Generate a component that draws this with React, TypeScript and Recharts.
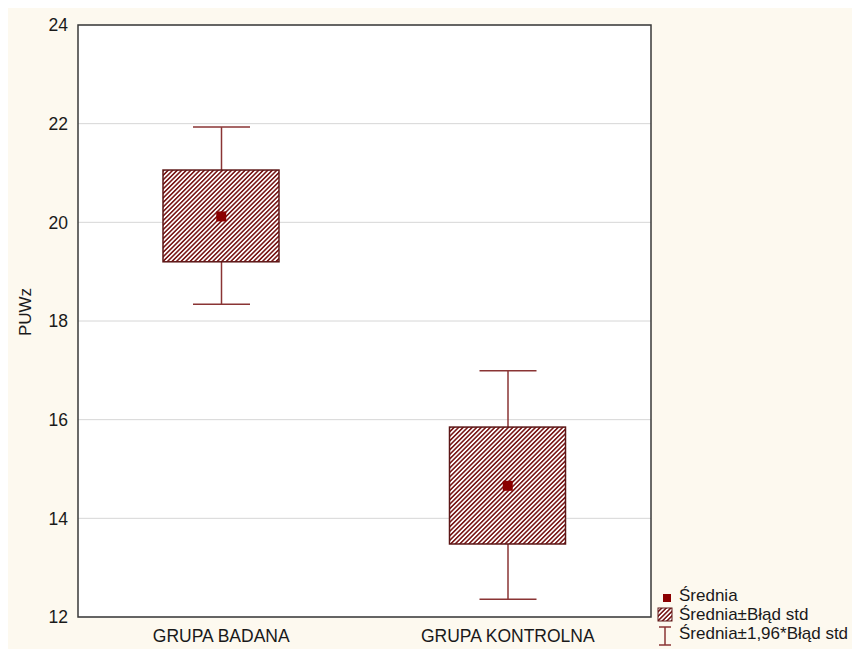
import { ComposedChart, Bar, Scatter, XAxis, YAxis, CartesianGrid, ReferenceArea, Label } from 'recharts'

const groups = ['GRUPA BADANA', 'GRUPA KONTROLNA']
const means = [20.12, 14.66]
const seLow = [19.2, 13.48]
const seHigh = [21.06, 15.85]
const ciLow = [18.34, 12.36]
const ciHigh = [21.93, 16.99]
const yTicks = [12, 14, 16, 18, 20, 22, 24]

const data = groups.map((g, i) => ({
  group: g,
  mean: means[i],
  se: [seLow[i], seHigh[i]],
  ci: [ciLow[i], ciHigh[i]],
}))

const FONT = '"Liberation Sans", Arial, sans-serif'
const RED = '#8B0000'
const WHISKER = '#8a3434'
const BOX_EDGE = '#5c1616'

function Whisker(props: any) {
  const { x, y, width, height } = props
  const cx = x + width / 2
  return (
    <g stroke={WHISKER} strokeWidth={1.5}>
      <line x1={cx} y1={y} x2={cx} y2={y + height} />
      <line x1={x} y1={y} x2={x + width} y2={y} />
      <line x1={x} y1={y + height} x2={x + width} y2={y + height} />
    </g>
  )
}

function Box(props: any) {
  const { x, y, width, height } = props
  return <rect x={x} y={y} width={width} height={height} fill="url(#hatch)" stroke={BOX_EDGE} strokeWidth={1.5} />
}

function MeanDot(props: any) {
  const { cx, cy } = props
  return <rect x={cx - 5} y={cy - 5} width={10} height={10} fill={RED} />
}

// legend drawn as an overlay so it does not shrink the plot area
function LegendBox() {
  return (
    <svg width={210} height={62} style={{ position: 'absolute', left: 648, top: 582, overflow: 'visible' }}>
      <defs>
        <pattern id="hatchLeg" patternUnits="userSpaceOnUse" width={3.2} height={3.2} patternTransform="rotate(45)">
          <rect width={3.2} height={3.2} fill="#fff" />
          <rect width={1.6} height={3.2} fill="#7a1a1a" />
        </pattern>
      </defs>
      <g fontFamily={FONT} fontSize={17} fill="#1a1a1a">
        <rect x={7} y={4} width={8} height={8} fill={RED} />
        <text x={23} y={11}>Średnia</text>
        <rect x={2} y={18} width={14} height={13} fill="url(#hatchLeg)" stroke={BOX_EDGE} />
        <text x={23} y={30}>Średnia±Błąd std</text>
        <g stroke={WHISKER} strokeWidth={1.5}>
          <line x1={9} y1={37} x2={9} y2={55} />
          <line x1={3} y1={37} x2={15} y2={37} />
          <line x1={3} y1={55} x2={15} y2={55} />
        </g>
        <text x={23} y={49}>Średnia±1,96*Błąd std</text>
      </g>
    </svg>
  )
}

export default function App() {
  return (
    <div style={{ position: 'relative', width: 852, height: 641, background: '#fdf9ef', fontFamily: FONT }}>
      <style>{'body{overflow:hidden}'}</style>
      <ComposedChart width={852} height={641} data={data} margin={{ top: 17, right: 209, left: 0, bottom: 2 }}>
        <defs>
          <pattern id="hatch" patternUnits="userSpaceOnUse" width={3.2} height={3.2} patternTransform="rotate(45)">
            <rect width={3.2} height={3.2} fill="#fff" />
            <rect width={1.6} height={3.2} fill="#7a1a1a" />
          </pattern>
        </defs>
        <CartesianGrid vertical={false} stroke="#d6d6d6" fill="#fff" />
        <XAxis
          dataKey="group"
          type="category"
          height={30}
          tickSize={0}
          tickMargin={13}
          axisLine={false}
          tick={{ fontSize: 17.5, fill: '#1a1a1a', fontFamily: FONT }}
        />
        <XAxis xAxisId="w" dataKey="group" type="category" orientation="top" height={0} tick={false} tickLine={false} axisLine={false} />
        <YAxis
          domain={[12, 24]}
          ticks={yTicks}
          width={70}
          tickSize={0}
          tickMargin={10}
          axisLine={false}
          tick={{ fontSize: 17.5, fill: '#1a1a1a', fontFamily: FONT }}
        >
          <Label
            content={({ viewBox }: any) => (
              <text
                x={17}
                y={viewBox.y + viewBox.height / 2 - 9}
                transform={`rotate(-90, 17, ${viewBox.y + viewBox.height / 2 - 9})`}
                textAnchor="middle"
                dominantBaseline="central"
                fontSize={17}
                fill="#1a1a1a"
                fontFamily={FONT}
              >
                PUWz
              </text>
            )}
          />
        </YAxis>
        <Bar xAxisId="w" dataKey="ci" barSize={57} shape={<Whisker />} isAnimationActive={false} />
        <Bar dataKey="se" barSize={116} shape={<Box />} isAnimationActive={false} />
        <Scatter dataKey="mean" shape={<MeanDot />} isAnimationActive={false} />
        <ReferenceArea y1={12} y2={24} fill="none" stroke="#3a3a3a" strokeWidth={1.5} ifOverflow="visible" />
      </ComposedChart>
      <LegendBox />
    </div>
  )
}
